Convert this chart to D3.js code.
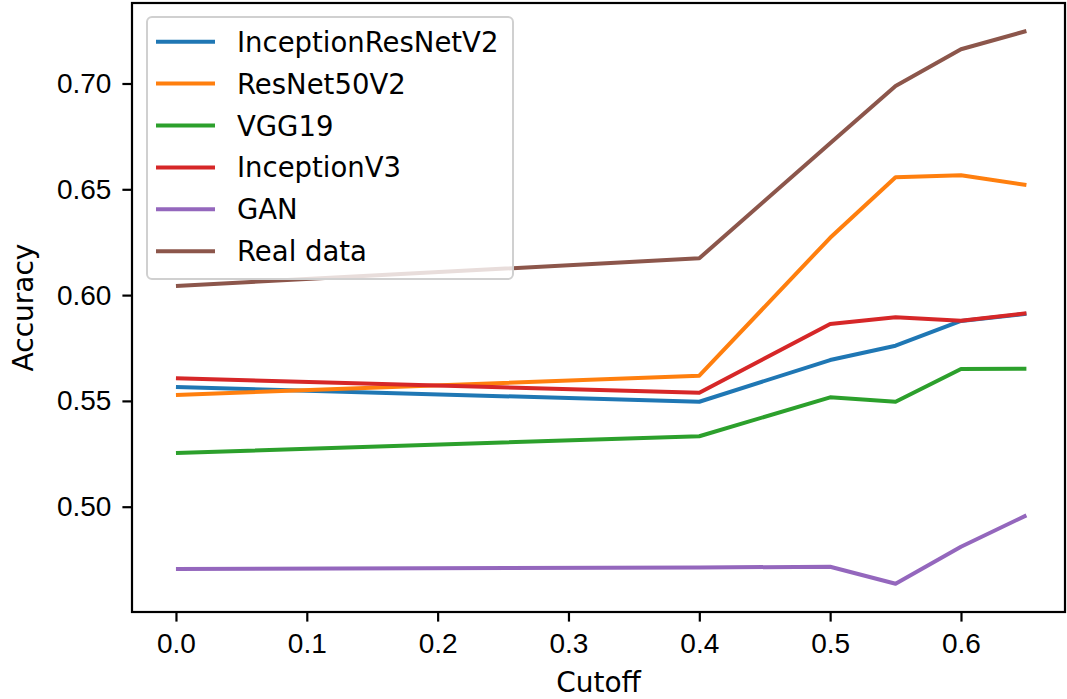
<!DOCTYPE html>
<html>
<head>
<meta charset="utf-8">
<script src="https://cdn.jsdelivr.net/npm/d3@7"></script>
<style>
	body { margin: 0; background: #fff; }
	svg { display: block; font-family: "DejaVu Sans", sans-serif; }
	.axis text { font-size: 28px; fill: #000; }
	.axis path, .axis line { stroke: #000; stroke-width: 2.2px; }
	.label { font-size: 28px; fill: #000; }
	.series { fill: none; stroke-width: 4px; stroke-linejoin: round; }
	.legend-label { font-size: 27.5px; fill: #000; }
</style>
</head>
<body>
<svg width="1067" height="699"></svg>
<script>
// cutoff values on the x axis
const cutoffs = [0.0, 0.4, 0.5, 0.55, 0.6, 0.65];

const names = ["InceptionResNetV2", "ResNet50V2", "VGG19", "InceptionV3", "GAN", "Real data"];
const colors = ["#1f77b4", "#ff7f0e", "#2ca02c", "#d62728", "#9467bd", "#8c564b"];

const inceptionResNetV2 = [0.5566, 0.5496, 0.5693, 0.5761, 0.5878, 0.5912];
const resNet50V2 = [0.5528, 0.5619, 0.6271, 0.6557, 0.6566, 0.6520];
const vgg19 = [0.5254, 0.5333, 0.5517, 0.5496, 0.5651, 0.5652];
const inceptionV3 = [0.5607, 0.5539, 0.5863, 0.5895, 0.5879, 0.5914];
const gan = [0.4706, 0.4713, 0.4716, 0.4636, 0.4811, 0.4959];
const realData = [0.6043, 0.6174, 0.6718, 0.6988, 0.7162, 0.7248];

const xTicks = [0.0, 0.1, 0.2, 0.3, 0.4, 0.5, 0.6];
const yTicks = [0.50, 0.55, 0.60, 0.65, 0.70];

const allSeries = [inceptionResNetV2, resNet50V2, vgg19, inceptionV3, gan, realData];

const plotLeft = 132, plotRight = 1065, plotTop = 3, plotBottom = 612;

const svg = d3.select("svg");

const x = d3.scaleLinear()
	.domain([-0.0336, 0.6795])
	.range([plotLeft, plotRight]);

const y = d3.scaleLinear()
	.domain([0.45024, 0.73804])
	.range([plotBottom, plotTop]);

const xAxis = d3.axisBottom(x)
	.tickValues(xTicks)
	.tickFormat(d3.format(".1f"))
	.tickSize(9.6)
	.tickPadding(12)
	.tickSizeOuter(0);

const yAxis = d3.axisLeft(y)
	.tickValues(yTicks)
	.tickFormat(d3.format(".2f"))
	.tickSize(9.6)
	.tickPadding(11)
	.tickSizeOuter(0);

svg.append("g")
	.attr("class", "x axis")
	.attr("transform", "translate(0," + plotBottom + ")")
	.call(xAxis)
	.call(g => g.select(".domain").remove());

svg.append("g")
	.attr("class", "y axis")
	.attr("transform", "translate(" + plotLeft + ",0)")
	.call(yAxis)
	.call(g => g.select(".domain").remove());

// the lines
const line = d3.line()
	.x(function(d, i) { return x(cutoffs[i]); })
	.y(function(d) { return y(d); });

svg.selectAll(".series")
	.data(allSeries)
	.enter().append("path")
	.attr("class", "series")
	.attr("d", line)
	.style("stroke", function(d, i) { return colors[i]; });

// frame
svg.append("rect")
	.attr("x", plotLeft)
	.attr("y", plotTop)
	.attr("width", plotRight - plotLeft)
	.attr("height", plotBottom - plotTop)
	.attr("fill", "none")
	.attr("stroke", "#000")
	.attr("stroke-width", 2.2);

// axis titles
svg.append("text")
	.attr("class", "label")
	.attr("x", (plotLeft + plotRight) / 2)
	.attr("y", 692)
	.attr("text-anchor", "middle")
	.text("Cutoff");

svg.append("text")
	.attr("class", "label")
	.attr("transform", "translate(33," + (plotTop + plotBottom) / 2 + ") rotate(-90)")
	.attr("text-anchor", "middle")
	.text("Accuracy");

// legend
const legendX = 147, legendY = 17, rowH = 41.9;
const legend = svg.append("g").attr("class", "legend");

legend.append("rect")
	.attr("x", legendX)
	.attr("y", legendY)
	.attr("width", 366)
	.attr("height", 262)
	.attr("rx", 5)
	.attr("fill", "#fff")
	.attr("fill-opacity", 0.8)
	.attr("stroke", "#d0d0d0")
	.attr("stroke-width", 2);

const rows = legend.selectAll(".row")
	.data(names)
	.enter().append("g")
	.attr("class", "row")
	.attr("transform", function(d, i) { return "translate(0," + (legendY + 24.7 + i * rowH) + ")"; });

rows.append("line")
	.attr("x1", 156)
	.attr("x2", 215)
	.attr("stroke-width", 4)
	.attr("stroke", function(d, i) { return colors[i]; });

rows.append("text")
	.attr("class", "legend-label")
	.attr("x", 237)
	.attr("y", 10)
	.text(function(d) { return d; });
</script>
</body>
</html>
